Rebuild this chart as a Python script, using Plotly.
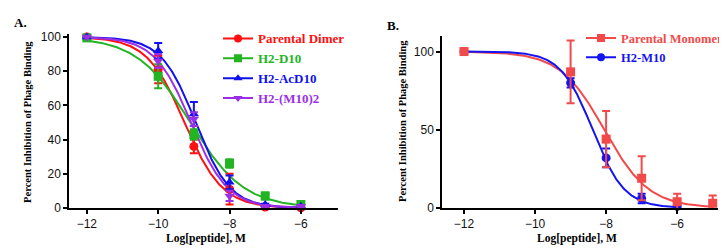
import numpy as np
import plotly.graph_objects as go

# ---------------- data ----------------
# Panel A
a_names = ["Parental Dimer", "H2-D10", "H2-AcD10", "H2-(M10)2"]
a_x = [-12, -10, -9, -8, -7, -6]
a_dimer = [100, 81, 36, 11, 0.5, 0]
a_dimer_err = [0, 8, 4, 9, 0, 0]
a_d10 = [99.5, 77, 43, 26, 7, 2]
a_d10_err = [0, 7, 3, 2.5, 2, 0.5]
a_acd10 = [100, 92, 55, 15, 2, 1]
a_acd10_err = [0, 4.5, 7, 4, 0.5, 0.5]
a_m10_2 = [100, 86, 52, 7, 1, 1]
a_m10_2_err = [0, 4, 4, 3, 0.5, 0.5]
# fitted sigmoid parameters (logIC50, Hill slope)
a_logic50 = [-9.26, -9.10, -8.95, -9.08]
a_hill = [0.82, 0.58, 0.90, 0.85]

# Panel B
b_names = ["Parental Monomer", "H2-M10"]
b_mono_x = [-12, -9, -8, -7, -6, -5]
b_mono = [100, 87, 44, 19, 4, 3]
b_mono_err = [0, 20, 18, 14, 5, 5]
b_m10_x = [-12, -9, -8, -7, -6]
b_m10 = [100, 80, 32, 6, 1]
b_m10_err = [0, 3, 6, 3, 1]
b_logic50 = [-8.05, -8.38]
b_hill = [0.69, 0.97]
b_curve_end = [-5, -6]

a_ticks_x = [-12, -10, -8, -6]
a_ticks_y = [0, 20, 40, 60, 80, 100]
b_ticks_x = [-12, -10, -8, -6]
b_ticks_y = [0, 50, 100]

# ---------------- styles ----------------
a_colors = ["#ff1010", "#22b422", "#1010f0", "#9b2fe6"]
a_symbols = ["circle", "square", "triangle-up", "triangle-down"]
b_colors = ["#f24a4a", "#1414f0"]
b_symbols = ["square", "circle"]

W, H = 727, 249
def px(v):
    return v / W
def py(v):
    return 1 - v / H

def sigmoid(x, c, h):
    return 100.0 / (1.0 + 10 ** ((x - c) * h))

fig = go.Figure()

a_data = [(a_dimer, a_dimer_err), (a_d10, a_d10_err), (a_acd10, a_acd10_err), (a_m10_2, a_m10_2_err)]
for i, name in enumerate(a_names):
    col = a_colors[i]
    xs = np.linspace(a_x[0], a_x[-1], 300)
    fig.add_trace(go.Scatter(x=xs, y=sigmoid(xs, a_logic50[i], a_hill[i]), mode="lines",
                             line=dict(color=col, width=2), showlegend=False,
                             xaxis="x", yaxis="y", hoverinfo="skip"))
for i, name in enumerate(a_names):
    col = a_colors[i]
    ys, es = a_data[i]
    fig.add_trace(go.Scatter(x=a_x, y=ys, mode="markers",
                             marker=dict(color=col, symbol=a_symbols[i], size=9),
                             error_y=dict(type="data", array=es, color=col, thickness=2, width=4),
                             showlegend=False, xaxis="x", yaxis="y", cliponaxis=False))
for i, name in enumerate(a_names):
    col = a_colors[i]
    fig.add_trace(go.Scatter(x=[None], y=[None], mode="lines+markers",
                             name=f'<span style="color:{col}">{name}</span>',
                             marker=dict(color=col, symbol=a_symbols[i], size=8),
                             line=dict(color=col, width=2),
                             xaxis="x", yaxis="y", legend="legend"))

b_data = [(b_mono_x, b_mono, b_mono_err), (b_m10_x, b_m10, b_m10_err)]
for i, name in enumerate(b_names):
    col = b_colors[i]
    xs = np.linspace(-12, b_curve_end[i], 300)
    fig.add_trace(go.Scatter(x=xs, y=sigmoid(xs, b_logic50[i], b_hill[i]), mode="lines",
                             line=dict(color=col, width=2), showlegend=False,
                             xaxis="x2", yaxis="y2", hoverinfo="skip"))
for i in [1, 0]:
    col = b_colors[i]
    bx, by, be = b_data[i]
    fig.add_trace(go.Scatter(x=bx, y=by, mode="markers",
                             marker=dict(color=col, symbol=b_symbols[i], size=9),
                             error_y=dict(type="data", array=be, color=col, thickness=2, width=4),
                             showlegend=False, xaxis="x2", yaxis="y2", cliponaxis=False))
for i, name in enumerate(b_names):
    col = b_colors[i]
    fig.add_trace(go.Scatter(x=[None], y=[None], mode="lines+markers",
                             name=f'<span style="color:{col}">{name}</span>',
                             marker=dict(color=col, symbol=b_symbols[i], size=8),
                             line=dict(color=col, width=2),
                             xaxis="x2", yaxis="y2", legend="legend2"))

tickfont = dict(family="Liberation Sans, Arial, sans-serif", size=12, color="#111")
axis_common = dict(showline=True, linecolor="black", linewidth=1.5, ticks="outside",
                   ticklen=4, tickwidth=1.5, tickcolor="black", showgrid=False,
                   zeroline=False, tickfont=tickfont)

legfont_a = dict(family="Liberation Serif, Times New Roman, serif", size=13, weight="bold")
legfont_b = dict(family="Liberation Serif, Times New Roman, serif", size=12.5, weight="bold")
fig.update_layout(
    width=W, height=H, margin=dict(l=0, r=0, t=0, b=0),
    paper_bgcolor="white", plot_bgcolor="white",
    xaxis=dict(domain=[px(61), px(330)], range=[-12.5, -4.96], tickvals=a_ticks_x,
               anchor="y", **axis_common),
    yaxis=dict(domain=[py(205), py(23.5)], range=[0, 101.5], tickvals=a_ticks_y,
               anchor="x", **axis_common),
    xaxis2=dict(domain=[px(434), px(710)], range=[-12.62, -4.85], tickvals=b_ticks_x,
                anchor="y2", **axis_common),
    yaxis2=dict(domain=[py(205), py(25)], range=[0, 110], tickvals=b_ticks_y,
                anchor="x2", **axis_common),
    legend=dict(x=px(210), y=py(12), xanchor="left", yanchor="top",
                bgcolor="rgba(0,0,0,0)", tracegroupgap=0, itemwidth=30, font=legfont_a),
    legend2=dict(x=px(573), y=py(12), xanchor="left", yanchor="top",
                 bgcolor="rgba(0,0,0,0)", tracegroupgap=0, itemwidth=30, font=legfont_b),
)

serif_bold = dict(family="Liberation Serif, Times New Roman, serif", size=11.5, color="black", weight="bold")
ann = [
    dict(text="A.", x=px(4), y=py(11), xanchor="left", yanchor="middle",
         font=dict(family="Liberation Serif, Times New Roman, serif", size=13, color="black", weight="bold")),
    dict(text="B.", x=px(377), y=py(14), xanchor="left", yanchor="middle",
         font=dict(family="Liberation Serif, Times New Roman, serif", size=13, color="black", weight="bold")),
    dict(text="Percent Inhibition of Phage Binding", x=px(20), y=py(115), textangle=-90,
         xanchor="center", yanchor="middle", font=dict(serif_bold, size=10.5)),
    dict(text="Percent Inhibition of Phage Binding", x=px(395), y=py(114), textangle=-90,
         xanchor="center", yanchor="middle", font=dict(serif_bold, size=10.5)),
    dict(text="Log[peptide], M", x=px(198), y=py(237), xanchor="center", yanchor="middle", font=serif_bold),
    dict(text="Log[peptide], M", x=px(569), y=py(237), xanchor="center", yanchor="middle", font=serif_bold),
]
for a in ann:
    a.update(xref="paper", yref="paper", showarrow=False)
fig.update_layout(annotations=ann)

fig.write_html("out.html")
